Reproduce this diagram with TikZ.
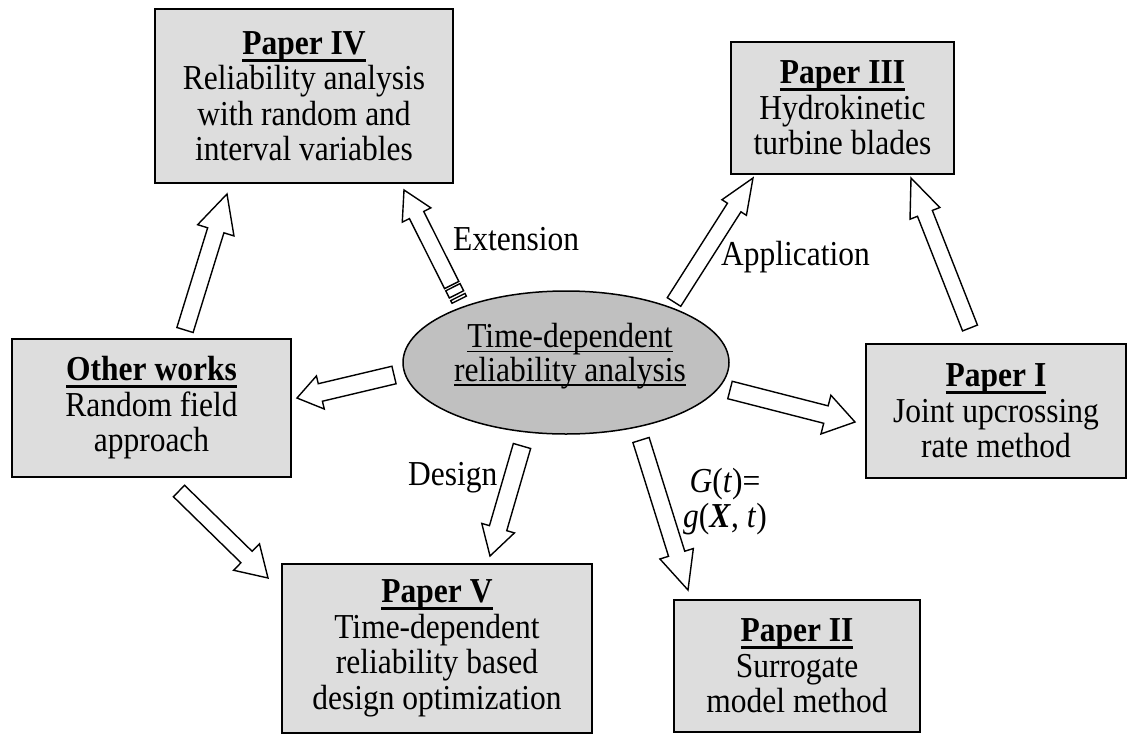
\documentclass[tikz,border=0pt]{standalone}
\usepackage{fontspec}
\setmainfont{Liberation Serif}[FakeStretch=0.9]
\usetikzlibrary{calc,shapes.geometric}
\definecolor{boxgray}{RGB}{221,221,221}
\definecolor{ellgray}{RGB}{192,192,192}
\newcommand\hdul[1]{\setbox0=\hbox{\bfseries #1}\rlap{\rule[-7.5pt]{\wd0}{3pt}}\box0}
\newcommand\elul[1]{\setbox0=\hbox{#1}\rlap{\rule[-4.5pt]{\wd0}{1.5pt}}\box0}
% #1 tail, #2 tip, #3 shaft half width, #4 head half width, #5 head length
\newcommand\blockarrow[5]{%
  \coordinate (bn) at ($(#2)!#5!(#1)$);
  \draw[barrow] ($(#1)!#3!90:(#2)$) -- ($(bn)!#3!90:(#2)$) -- ($(bn)!#4!90:(#2)$) -- (#2)
     -- ($(bn)!#4!-90:(#2)$) -- ($(bn)!#3!-90:(#2)$) -- ($(#1)!#3!-90:(#2)$) -- cycle;}
% #1 end, #2 tip, #3 d1, #4 d2, #5 half width
\newcommand\stripebar[5]{%
  \coordinate (sa) at ($(#1)!#3!(#2)$);
  \coordinate (sb) at ($(#1)!#4!(#2)$);
  \draw[barrow] ($(sa)!#5!90:(#2)$) -- ($(sb)!#5!90:(#2)$) -- ($(sb)!#5!-90:(#2)$) -- ($(sa)!#5!-90:(#2)$) -- cycle;}
\begin{document}
\begin{tikzpicture}[x=1pt,y=-1pt,
  every node/.style={font=\fontsize{35}{35.5}\selectfont},
  paperbox/.style={draw=black, line width=1.8pt, fill=boxgray, align=center, inner sep=0pt},
  lbl/.style={inner sep=0pt, anchor=base west},
  barrow/.style={draw=black, fill=white, line width=1.4pt, line join=miter}]
\useasboundingbox (0,0) rectangle (1128,734);

\node[paperbox, minimum width=298pt, minimum height=174pt] (p4) at (304,96)
  {\hdul{Paper IV}\\Reliability analysis\\with random and\\interval variables};
\node[paperbox, minimum width=223pt, minimum height=132pt] (p3) at (842.5,108)
  {\hdul{Paper III}\\Hydrokinetic\\turbine blades};
\node[paperbox, minimum width=260pt, minimum height=134pt] (p1) at (996,411)
  {\hdul{Paper I}\\Joint upcrossing\\rate method};
\node[paperbox, minimum width=246pt, minimum height=132pt] (p2) at (797,666)
  {\hdul{Paper II}\\Surrogate\\model method};
\node[paperbox, minimum width=310pt, minimum height=169pt] (p5) at (437,648.5)
  {\hdul{Paper V}\\Time-dependent\\reliability based\\design optimization};
\node[paperbox, minimum width=279pt, minimum height=138pt] (ow) at (151.5,408)
  {\hdul{Other works}\\Random field\\approach};
\node[draw=black, ellipse, fill=ellgray, line width=1.5pt, minimum width=326pt,
  minimum height=143pt, inner sep=0pt] (el) at (566,362.5) {};
\node[align=center, inner sep=0pt, font=\fontsize{35}{33.5}\selectfont] (elt) at (570,356)
  {\elul{Time-dependent}\\\elul{reliability analysis}};

\node[lbl] (lext) at (453,250) {Extension};
\node[lbl] (lapp) at (721,265) {Application};
\node[lbl] (ldes) at (408,485) {Design};
\node[align=center, inner sep=0pt, font=\fontsize{35}{35}\selectfont] (lg) at (725,502)
  {\textit{G}(\textit{t})=\\\textit{g}(\textbf{\textit{X}}, \textit{t})};

% arrow end points
\coordinate (a1s) at (185,330);   \coordinate (a1t) at (227,194);
\coordinate (a2e) at (459.2,299.7); \coordinate (a2s) at (451.7,285); \coordinate (a2t) at (404,190);
\coordinate (a3s) at (674,302);   \coordinate (a3t) at (753,178);
\coordinate (a4s) at (970,328);   \coordinate (a4t) at (911,178);
\coordinate (a5s) at (394,375);   \coordinate (a5t) at (297,398);
\coordinate (a6s) at (179,491);   \coordinate (a6t) at (268,578);
\coordinate (a7s) at (522,446);   \coordinate (a7t) at (490,556);
\coordinate (a8s) at (641,440);   \coordinate (a8t) at (688,590);
\coordinate (a9s) at (730,390);   \coordinate (a9t) at (855,422);

\blockarrow{a1s}{a1t}{8.5pt}{19pt}{38pt}
\blockarrow{a2s}{a2t}{8pt}{16pt}{28pt}
\stripebar{a2e}{a2t}{0pt}{3pt}{8pt}
\stripebar{a2e}{a2t}{6pt}{14pt}{8pt}
\blockarrow{a3s}{a3t}{8pt}{14.5pt}{35pt}
\blockarrow{a4s}{a4t}{8pt}{16pt}{38pt}
\blockarrow{a5s}{a5t}{9pt}{17pt}{24pt}
\blockarrow{a6s}{a6t}{8pt}{18.5pt}{30pt}
\blockarrow{a7s}{a7t}{9pt}{17pt}{29pt}
\blockarrow{a8s}{a8t}{8.5pt}{17.5pt}{38pt}
\blockarrow{a9s}{a9t}{9pt}{20pt}{30pt}
\end{tikzpicture}
\end{document}
